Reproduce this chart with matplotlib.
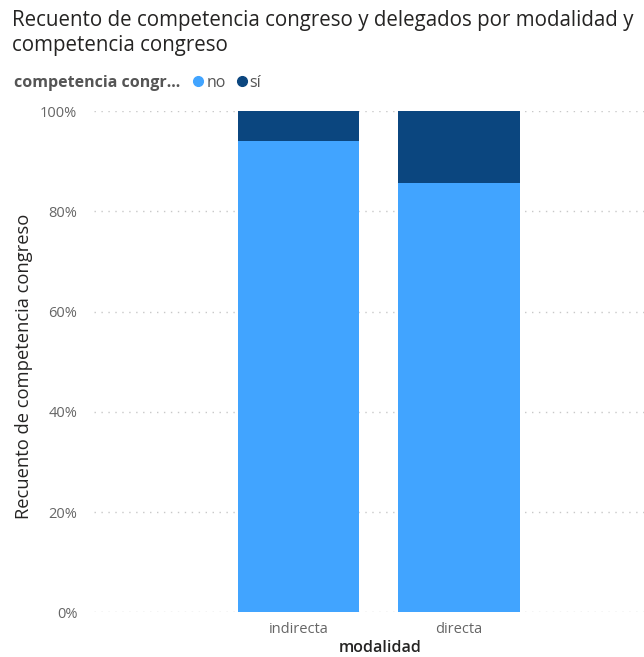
import matplotlib
matplotlib.use("Agg")
import matplotlib.pyplot as plt
from matplotlib.ticker import PercentFormatter
from matplotlib.lines import Line2D

# data (100% stacked columns)
categories = ["indirecta", "directa"]
pct_no = [0.941, 0.857]
pct_si = [1 - v for v in pct_no]
series_names = ["no", "sí"]

color_no = "#41A4FF"
color_si = "#0B467F"

plt.rcParams['font.family'] = ['Open Sans', 'DejaVu Sans']

fig = plt.figure(figsize=(6.44, 6.57), dpi=100)
ax = fig.add_axes([0.146, 0.068, 0.854, 0.763])

x = list(range(len(categories)))
ax.bar(x, pct_no, width=0.757, color=color_no, zorder=3)
ax.bar(x, pct_si, width=0.757, bottom=pct_no, color=color_si, zorder=3)

ax.set_xlim(-1.274, 2.153)
ax.set_ylim(0, 1)
ax.set_yticks([0, 0.2, 0.4, 0.6, 0.8, 1.0])
ax.yaxis.set_major_formatter(PercentFormatter(1.0, decimals=0))
ax.set_xticks(x)
ax.set_xticklabels(categories)
ax.tick_params(axis='both', length=0, labelsize=10.5, colors="#666666")
ax.tick_params(axis='y', pad=12)
ax.tick_params(axis='x', pad=7)
ax.grid(axis='y', color="#c8c8c8", linestyle=(0, (1, 4)), linewidth=1, zorder=0)
for s in ax.spines.values():
    s.set_visible(False)

ax.set_ylabel("Recuento de competencia congreso", fontsize=13.2, color="#252423")
ax.set_xlabel("modalidad", fontsize=11.5, color="#252423", fontweight="semibold")
ax.yaxis.set_label_coords(-0.111, 0.49)
ax.xaxis.set_label_coords(0.52, -0.056)

# title
fig.text(0.019, 0.985, "Recuento de competencia congreso y delegados por modalidad y\ncompetencia congreso",
         fontsize=14.8, color="#252423", va="top", ha="left", linespacing=1.25)

# legend row
fig.text(0.022, 0.874, "competencia congr...", fontsize=11.5, fontweight="bold",
         color="#555555", va="center", ha="left")
handles = [Line2D([], [], marker='o', linestyle='', markersize=7, color=c) for c in (color_no, color_si)]
fig.legend(handles, series_names, loc="center left", bbox_to_anchor=(0.298, 0.874), ncol=2,
           frameon=False, handlelength=0.8, handletextpad=0.1, columnspacing=0.6, fontsize=11.5,
           labelcolor="#555555", borderaxespad=0, borderpad=0)

fig.savefig("out.png", dpi=100)
